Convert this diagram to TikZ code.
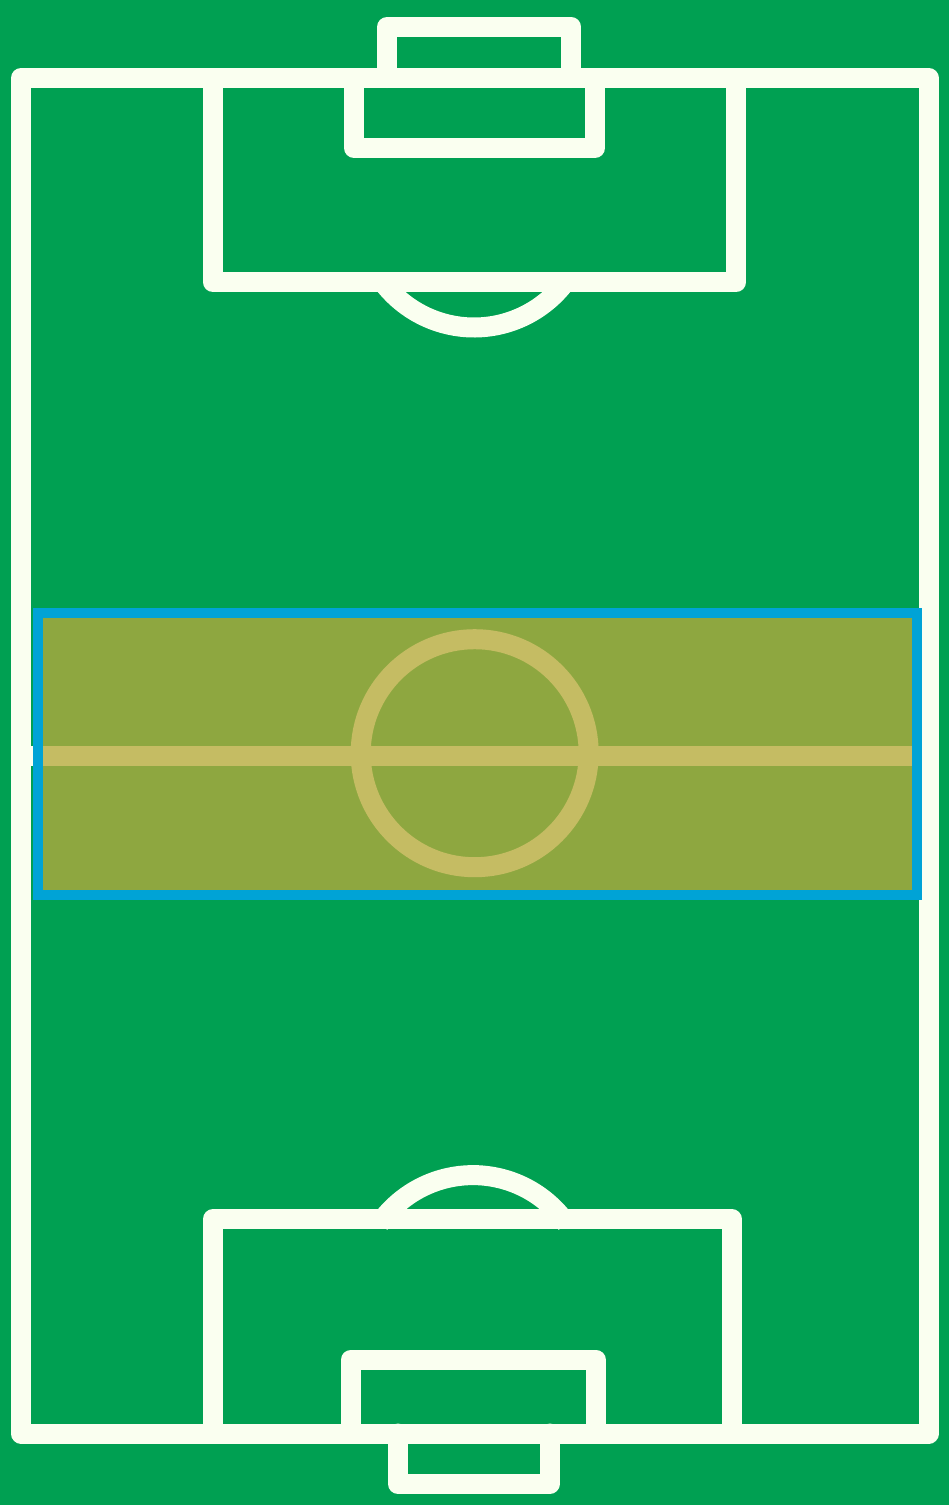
\documentclass[tikz,border=0pt]{standalone}
\definecolor{pitch}{RGB}{0,160,82}
\definecolor{chalk}{RGB}{250,255,240}
\definecolor{bandfill}{RGB}{183,170,60}
\definecolor{bandedge}{RGB}{0,163,214}
\tikzset{
  pitchline/.style={draw=chalk, line width=20pt, line join=round, line cap=round},
  zoneband/.style={fill=bandfill, fill opacity=0.78, draw=none},
  zoneedge/.style={draw=bandedge, line width=10pt, line join=miter}
}
\begin{document}
\begin{tikzpicture}[x=1pt,y=-1pt]
\fill[pitch] (0,0) rectangle (949,1505);
\useasboundingbox (0,0) rectangle (949,1505);
% outer boundary
\draw[pitchline] (21,78) rectangle (928.7,1433.5);
% halfway line and centre circle
\draw[pitchline, line cap=butt] (21,756) -- (928.7,756);
\draw[pitchline] (474.7,753.2) circle[radius=114];
% top end
\draw[pitchline, line cap=butt] (474,213) ++(37:114.5) arc[start angle=37, end angle=143, radius=114.5];
\draw[pitchline] (212.8,78) -- (212.8,282) -- (736.4,282) -- (736.4,78);
\draw[pitchline] (353.8,78) -- (353.8,147.7) -- (595.3,147.7) -- (595.3,78);
\draw[pitchline] (387,78) -- (387,27) -- (571.3,27) -- (571.3,78);
% bottom end
\draw[pitchline, line cap=butt] (473,1289.6) ++(-35:114.5) arc[start angle=-35, end angle=-145, radius=114.5];
\draw[pitchline] (212.8,1433.5) -- (212.8,1219.3) -- (732,1219.3) -- (732,1433.5);
\draw[pitchline] (351,1433.5) -- (351,1359.5) -- (595.6,1359.5) -- (595.6,1433.5);
\draw[pitchline] (398,1433.5) -- (398,1484) -- (549.6,1484) -- (549.6,1433.5);
% highlighted middle zone
\path[zoneband] (37.8,613) rectangle (916.8,894.7);
\draw[zoneedge] (37.8,613) rectangle (916.8,894.7);
\end{tikzpicture}
\end{document}
